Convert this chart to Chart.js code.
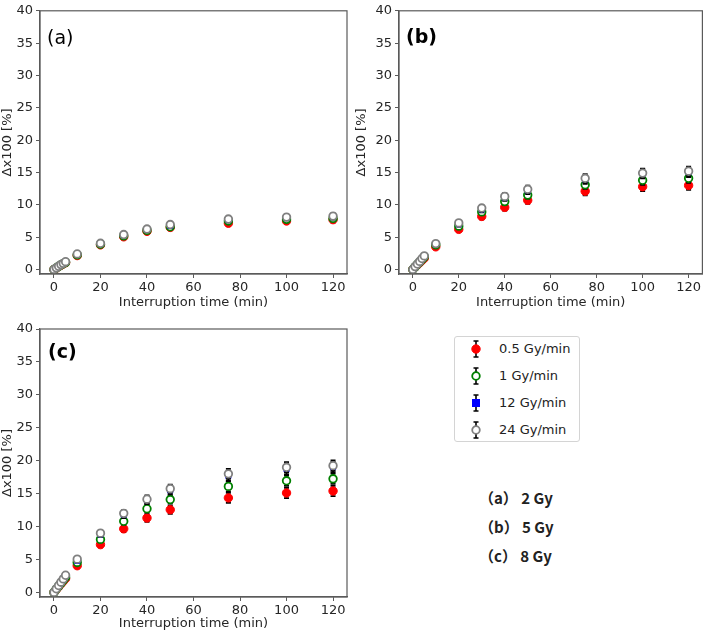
<!DOCTYPE html>
<html>
<head>
<meta charset="utf-8">
<script src="https://cdn.jsdelivr.net/npm/chart.js@4.4.1/dist/chart.umd.min.js"></script>
<style>
  html, body { margin: 0; padding: 0; background: #ffffff; }
  body { width: 708px; height: 631px; position: relative; overflow: hidden; font-family: "DejaVu Sans", sans-serif; }
  canvas { position: absolute; }
  #legend { position: absolute; left: 454px; top: 336px; width: 126px; height: 106px; border: 1px solid #d4d4d4; border-radius: 3px; box-sizing: border-box; }
  .item { position: absolute; left: 0; height: 20px; width: 126px; }
  .item svg { position: absolute; left: 12px; top: 0; }
  .item span { position: absolute; left: 44px; top: 2px; font-size: 13px; color: #222; white-space: nowrap; line-height: 16px; }
  .dose { position: absolute; left: 479px; font-family: "Noto Sans CJK JP", sans-serif; font-weight: bold; font-size: 15px; color: #222; line-height: 18px; white-space: nowrap; }
</style>
</head>
<body>
<canvas id="ca" width="354" height="310" style="left:0;top:0;"></canvas>
<canvas id="cb" width="354" height="310" style="left:354px;top:0;"></canvas>
<canvas id="cc" width="354" height="321" style="left:0;top:310px;"></canvas>

<div id="legend"></div>
<div class="dose" style="top:489px;">（a） 2 Gy</div>
<div class="dose" style="top:518px;">（b） 5 Gy</div>
<div class="dose" style="top:547px;">（c） 8 Gy</div>

<script>
// ---------------- data ----------------
const times = [0, 1, 2, 3, 4, 5, 10, 20, 30, 40, 50, 75, 100, 120];
const seriesNames = ["0.5 Gy/min", "1 Gy/min", "12 Gy/min", "24 Gy/min"];
const xTickValues = [0, 20, 40, 60, 80, 100, 120];
const yTickValues = [0, 5, 10, 15, 20, 25, 30, 35, 40];
const panelLabels = ["(a)", "(b)", "(c)"];
const doseLabels = ["2 Gy", "5 Gy", "8 Gy"];

// panel (a) 2 Gy
const a_05 = [0, 0.2, 0.45, 0.65, 0.85, 1.05, 2.15, 3.8, 5.05, 5.9, 6.5, 7.15, 7.5, 7.7];
const a_1  = [0, 0.22, 0.47, 0.7, 0.9, 1.1, 2.25, 3.9, 5.2, 6.05, 6.6, 7.5, 7.75, 7.9];
const a_12 = [0, 0.24, 0.5, 0.72, 0.93, 1.15, 2.35, 4.0, 5.3, 6.15, 6.75, 7.7, 8.0, 8.15];
const a_24 = [0, 0.25, 0.5, 0.75, 0.95, 1.2, 2.4, 4.05, 5.4, 6.25, 6.95, 7.8, 8.1, 8.25];
const a_err = [0, 0.03, 0.05, 0.06, 0.08, 0.1, 0.15, 0.22, 0.28, 0.3, 0.33, 0.4, 0.42, 0.42];

// panel (b) 5 Gy
const b_05 = [0, 0.35, 0.7, 1.05, 1.4, 1.75, 3.5, 6.2, 8.2, 9.6, 10.7, 12.1, 12.8, 13.0];
const b_1  = [0, 0.4, 0.8, 1.15, 1.55, 1.95, 3.8, 6.7, 8.9, 10.5, 11.5, 13.1, 13.8, 14.1];
const b_12 = [0, 0.43, 0.85, 1.22, 1.65, 2.05, 3.95, 7.0, 9.3, 11.1, 12.2, 13.9, 14.8, 15.0];
const b_24 = [0, 0.45, 0.85, 1.25, 1.7, 2.1, 4.0, 7.2, 9.5, 11.3, 12.4, 14.1, 14.9, 15.2];
const b_err = [0, 0.04, 0.06, 0.08, 0.1, 0.12, 0.22, 0.36, 0.45, 0.5, 0.55, 0.65, 0.7, 0.7];

// panel (c) 8 Gy
const c_05 = [0, 0.45, 0.85, 1.3, 1.7, 2.1, 4.05, 7.25, 9.65, 11.3, 12.55, 14.35, 15.1, 15.4];
const c_1  = [0, 0.5, 0.95, 1.4, 1.85, 2.3, 4.55, 8.05, 10.8, 12.7, 14.1, 16.1, 16.95, 17.25];
const c_12 = [0, 0.53, 1.0, 1.5, 2.0, 2.5, 4.8, 8.8, 11.8, 14.0, 15.5, 17.7, 18.7, 19.0];
const c_24 = [0, 0.55, 1.05, 1.55, 2.05, 2.6, 5.05, 9.0, 12.0, 14.15, 15.75, 18.0, 19.0, 19.25];
const c_err = [0, 0.04, 0.07, 0.09, 0.12, 0.14, 0.25, 0.42, 0.5, 0.58, 0.62, 0.75, 0.78, 0.78];

// ---------------- styles ----------------
const styles = [
  { pointStyle: "circle", bg: "#ff0000", border: "#ff0000", radius: 4.2, bw: 1 },
  { pointStyle: "circle", bg: "#ffffff", border: "#008000", radius: 3.8, bw: 1.8 },
  { pointStyle: "rect",   bg: "#0000ff", border: "#0000ff", radius: 3.6, bw: 1 },
  { pointStyle: "circle", bg: "#ffffff", border: "#808080", radius: 3.8, bw: 1.8 }
];

const FONT = "'DejaVu Sans', sans-serif";
const TEXT = "#262626";
const FRAME = "#5a5a5a";

const errorBarPlugin = {
  id: "errorBars",
  beforeDatasetDraw(chart, args) {
    const ds = chart.data.datasets[args.index];
    const err = ds.errors;
    if (!err) return;
    const xs = chart.scales.x, ys = chart.scales.y;
    const ctx = chart.ctx;
    ctx.save();
    ctx.strokeStyle = "#000000";
    ctx.lineWidth = 1.8;
    ds.data.forEach((p, i) => {
      const px = xs.getPixelForValue(p.x);
      const y1 = ys.getPixelForValue(p.y + err[i]);
      const y2 = ys.getPixelForValue(p.y - err[i]);
      ctx.beginPath();
      ctx.moveTo(px, y1); ctx.lineTo(px, y2);
      ctx.moveTo(px - 2.5, y1); ctx.lineTo(px + 2.5, y1);
      ctx.moveTo(px - 2.5, y2); ctx.lineTo(px + 2.5, y2);
      ctx.stroke();
    });
    ctx.restore();
  }
};

const framePlugin = {
  id: "frame",
  afterDraw(chart, args, opts) {
    const a = chart.chartArea, ctx = chart.ctx;
    ctx.save();
    ctx.strokeStyle = FRAME;
    ctx.lineWidth = 1.2;
    ctx.strokeRect(a.left, a.top, a.right - a.left, a.bottom - a.top);
    ctx.fillStyle = "#000000";
    ctx.font = (opts.bold ? "bold " : "") + "19px " + FONT;
    ctx.textBaseline = "middle";
    ctx.textAlign = "left";
    ctx.fillText(opts.text, a.left + opts.dx, a.top + opts.dy);
    ctx.restore();
  }
};

function makePanel(id, series, err, label, cfg) {
  const datasets = [];
  // draw order: dataset 0 is drawn last (on top) -> put 24 Gy/min first
  for (let s = 3; s >= 0; s--) {
    const st = styles[s];
    datasets.push({
      label: seriesNames[s],
      data: times.map((t, i) => ({ x: t, y: series[s][i] })),
      errors: err,
      showLine: false,
      pointStyle: st.pointStyle,
      pointRadius: st.radius,
      pointHoverRadius: st.radius,
      pointBackgroundColor: st.bg,
      pointBorderColor: st.border,
      pointBorderWidth: st.bw,
      clip: false
    });
  }
  const tickFont = { family: FONT, size: 13 };
  return new Chart(document.getElementById(id), {
    type: "scatter",
    data: { datasets },
    plugins: [errorBarPlugin, framePlugin],
    options: {
      responsive: false,
      devicePixelRatio: 1,
      animation: false,
      events: [],
      layout: { padding: { left: 0, right: cfg.padRight, top: cfg.padTop, bottom: 0 } },
      plugins: {
        legend: { display: false },
        tooltip: { enabled: false },
        frame: { text: label, dx: cfg.lx, dy: cfg.ly, bold: cfg.bold }
      },
      scales: {
        x: {
          type: "linear", min: -6, max: 126,
          afterBuildTicks: (sc) => { sc.ticks = xTickValues.map(v => ({ value: v })); },
          afterFit: (sc) => { sc.height = cfg.xh; },
          grid: { display: true, drawOnChartArea: false, drawTicks: true, tickLength: 4, color: FRAME, tickWidth: 1 },
          border: { display: true, color: FRAME, width: 1.2 },
          ticks: { font: tickFont, color: TEXT, padding: 2, maxRotation: 0 },
          title: { display: true, text: "Interruption time (min)", font: tickFont, color: TEXT, padding: { top: 0, bottom: 0 } }
        },
        y: {
          type: "linear", min: -0.7, max: 40,
          afterBuildTicks: (sc) => { sc.ticks = yTickValues.map(v => ({ value: v })); },
          afterFit: (sc) => { sc.width = cfg.yw; },
          grid: { display: true, drawOnChartArea: false, drawTicks: true, tickLength: 4, color: FRAME, tickWidth: 1 },
          border: { display: true, color: FRAME, width: 1.2 },
          ticks: { font: tickFont, color: TEXT, padding: 3 },
          title: { display: true, text: "Δx100 [%]", font: tickFont, color: TEXT, padding: { top: 0, bottom: 0 } }
        }
      }
    }
  });
}

makePanel("ca", [a_05, a_1, a_12, a_24], a_err, panelLabels[0], { padRight: 7, padTop: 5, xh: 36, yw: 40, lx: 7, ly: 28, bold: false });
makePanel("cb", [b_05, b_1, b_12, b_24], b_err, panelLabels[1], { padRight: 1, padTop: 5, xh: 36, yw: 45, lx: 7, ly: 27, bold: true });
makePanel("cc", [c_05, c_1, c_12, c_24], c_err, panelLabels[2], { padRight: 7, padTop: 19, xh: 34, yw: 40, lx: 8, ly: 24, bold: true });

// ---------------- legend (HTML) ----------------
const legend = document.getElementById("legend");
const itemTops = [2, 29, 56, 83];
seriesNames.forEach((name, s) => {
  const st = styles[s];
  let marker;
  if (st.pointStyle === "rect") {
    marker = `<rect x="5.5" y="6.5" width="7" height="7" fill="${st.bg}" stroke="${st.border}" stroke-width="1"/>`;
  } else {
    marker = `<circle cx="9" cy="10" r="${st.radius}" fill="${st.bg}" stroke="${st.border}" stroke-width="${st.bw}"/>`;
  }
  const svg = `<svg width="18" height="20" viewBox="0 0 18 20">
    <path d="M9 2 L9 18 M6.5 2 L11.5 2 M6.5 18 L11.5 18" stroke="#000" stroke-width="1.6" fill="none"/>
    ${marker}</svg>`;
  const div = document.createElement("div");
  div.className = "item";
  div.style.top = itemTops[s] + "px";
  div.innerHTML = svg + `<span>${name}</span>`;
  legend.appendChild(div);
});
</script>
</body>
</html>
